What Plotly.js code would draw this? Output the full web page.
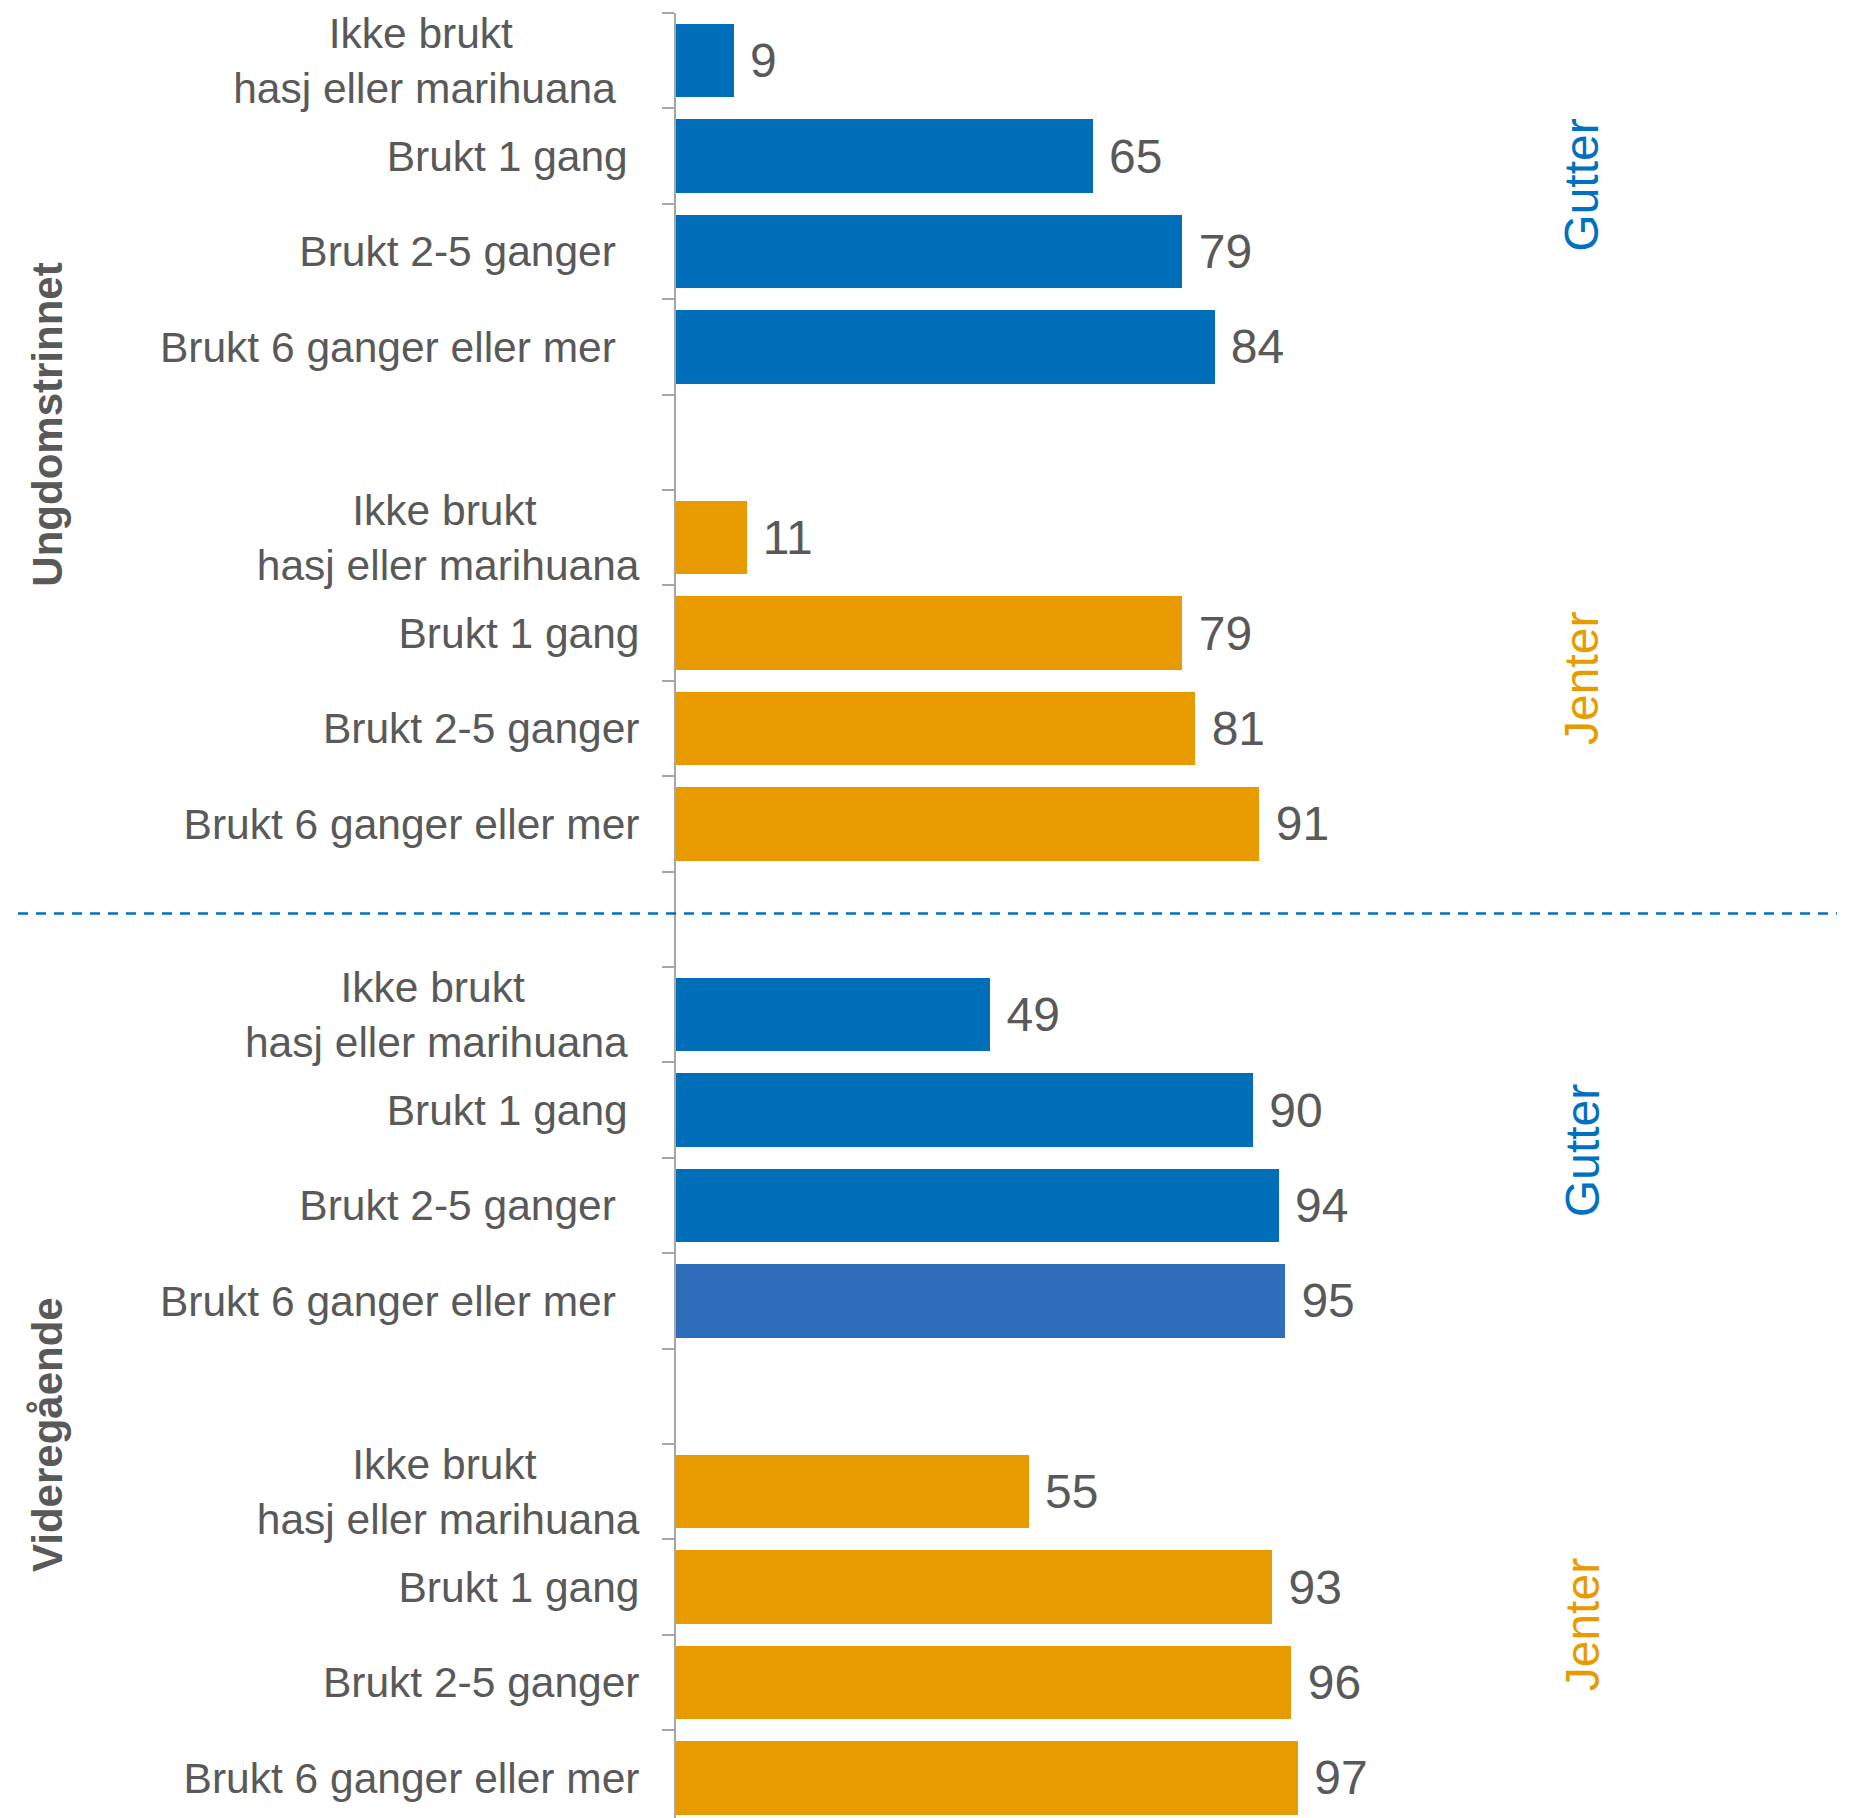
<!DOCTYPE html>
<html>
<head>
<meta charset="utf-8">
<script src="https://cdn.plot.ly/plotly-3.0.1.min.js"></script>
<style>html,body{margin:0;padding:0;background:#fff;}#chart{width:1858px;height:1818px;}</style>
</head>
<body>
<div id="chart"></div>
<script>
// ---- data ----
const NB = '\u00a0';
const CP = NB.repeat(8) + '\u2009';   // centring pad for the short first line
const ungGutterLabels = ['Ikke brukt' + CP + NB.repeat(2) + '<br>hasj eller marihuana' + NB.repeat(2), 'Brukt 1 gang' + NB, 'Brukt 2-5 ganger' + NB.repeat(2), 'Brukt 6 ganger eller mer' + NB.repeat(2)];
const ungJenterLabels = ['Ikke brukt' + CP + '<br>hasj eller marihuana', 'Brukt 1 gang', 'Brukt 2-5 ganger', 'Brukt 6 ganger eller mer'];
const vgsGutterLabels = ['Ikke brukt' + CP + NB + '<br>hasj eller marihuana' + NB, 'Brukt 1 gang' + NB, 'Brukt 2-5 ganger' + NB.repeat(2), 'Brukt 6 ganger eller mer' + NB.repeat(2)];
const vgsJenterLabels = ['Ikke brukt' + CP + '<br>hasj eller marihuana', 'Brukt 1 gang', 'Brukt 2-5 ganger', 'Brukt 6 ganger eller mer'];

const ungGutter = [9, 65, 79, 84];
const ungJenter = [11, 79, 81, 91];
const vgsGutter = [49, 90, 94, 95];
const vgsJenter = [55, 93, 96, 97];

const sideTitles = ['Ungdomstrinnet', 'Videregående'];
const genderTitles = ['Gutter', 'Jenter', 'Gutter', 'Jenter'];

// ---- styles ----
const BLUE = '#006EB8';
const BLUE2 = '#2D6DB9';
const ORANGE = '#E89B00';
const TXT = '#595959';
const FONT = 'Liberation Sans, Arial, sans-serif';

const groups = [
  {vals: ungGutter, labels: ungGutterLabels, colors: [BLUE, BLUE, BLUE, BLUE]},
  {vals: ungJenter, labels: ungJenterLabels, colors: [ORANGE, ORANGE, ORANGE, ORANGE]},
  {vals: vgsGutter, labels: vgsGutterLabels, colors: [BLUE, BLUE, BLUE, BLUE2]},
  {vals: vgsJenter, labels: vgsJenterLabels, colors: [ORANGE, ORANGE, ORANGE, ORANGE]}
];

const traces = [];
const tickvals = [];
const ticktext = [];
groups.forEach((g, gi) => {
  const ys = g.vals.map((v, i) => gi * 5 + i);
  ys.forEach((y, i) => { tickvals.push(y); ticktext.push(g.labels[i]); });
  traces.push({
    type: 'bar', orientation: 'h',
    x: g.vals, y: ys,
    width: 0.77,
    marker: {color: g.colors, line: {width: 0}},
    texttemplate: NB + '%{x}',
    textposition: 'outside',
    constraintext: 'none',
    cliponaxis: false,
    textfont: {family: FONT, size: 48, color: TXT},
    hoverinfo: 'skip',
    showlegend: false
  });
});

const L = 676, W = 1858, R = 28;
const plotW = W - L - R;
const px = v => (v - L) / plotW;

const gender = (t, y, color) => ({
  text: t, xref: 'paper', yref: 'y', x: px(1582), y: y, textangle: -90, showarrow: false,
  xanchor: 'center', yanchor: 'middle', font: {family: FONT, size: 48, color: color}
});
const side = (t, y) => ({
  text: t, xref: 'paper', yref: 'y', x: px(47.5), y: y, textangle: -90, showarrow: false,
  xanchor: 'center', yanchor: 'middle', font: {family: FONT, size: 42, color: TXT, weight: 'bold'}
});

const layout = {
  width: 1858, height: 1818,
  margin: {l: L, r: R, t: 13, b: 0, pad: 0},
  paper_bgcolor: '#ffffff', plot_bgcolor: '#ffffff',
  font: {family: FONT, color: TXT},
  showlegend: false,
  bargap: 0,
  xaxis: {range: [0, 180], visible: false, fixedrange: true},
  yaxis: {
    range: [18.42, -0.5],
    tickmode: 'array', tickvals: tickvals, ticktext: ticktext,
    ticks: '', showgrid: false, zeroline: false,
    showline: true, linecolor: '#A6A6A6', linewidth: 2,
    tickfont: {family: FONT, size: 42.5, color: TXT},
    ticklabelstandoff: 26,
    minor: {tick0: 0.5, dtick: 1, ticks: 'outside', ticklen: 12, tickwidth: 2, tickcolor: '#A6A6A6', showgrid: false},
    fixedrange: true
  },
  shapes: [{
    type: 'line', xref: 'paper', yref: 'y',
    x0: px(18), x1: px(1837), y0: 8.94, y1: 8.94,
    line: {color: '#0070C0', width: 2.5, dash: '10px,8px'}
  }],
  annotations: [
    side(sideTitles[0], 3.82),
    side(sideTitles[1], 14.4),
    gender(genderTitles[0], 1.31, '#0070C0'),
    gender(genderTitles[1], 6.48, ORANGE),
    gender(genderTitles[2], 11.43, '#0070C0'),
    gender(genderTitles[3], 16.40, ORANGE)
  ]
};

Plotly.newPlot('chart', traces, layout, {displayModeBar: false, staticPlot: true});
</script>
</body>
</html>
